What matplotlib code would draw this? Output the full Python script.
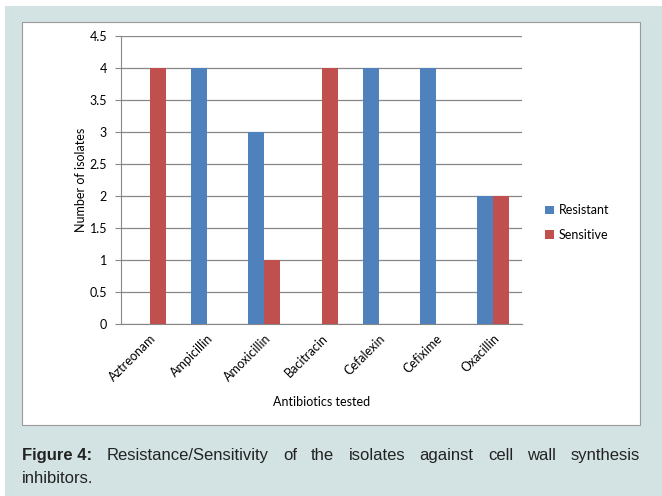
import numpy as np
import matplotlib.pyplot as plt
from matplotlib.patches import Rectangle

# Antibiotic susceptibility counts
antibiotics = ['Aztreonam', 'Ampicillin', 'Amoxicillin', 'Bacitracin',
               'Cefalexin', 'Cefixime', 'Oxacillin']
resistant = [0, 4, 3, 0, 4, 4, 2]
sensitive = [4, 0, 1, 4, 0, 0, 2]
y_ticks = [0, 0.5, 1, 1.5, 2, 2.5, 3, 3.5, 4, 4.5]

blue = '#4f81bd'
red = '#c0504d'
grid_col = '#878787'

fig = plt.figure(figsize=(6.62, 4.96), dpi=100)
fig.patch.set_facecolor('white')

# page panel and chart frame
fig.patches.append(Rectangle((5 / 662, 0), 657 / 662, 1 - 6 / 496,
                             transform=fig.transFigure, facecolor='#d3e3e3',
                             edgecolor='none', zorder=0))
fig.patches.append(Rectangle((22 / 662, 1 - 425 / 496), 618 / 662, 403 / 496,
                             transform=fig.transFigure, facecolor='white',
                             edgecolor='#9a9a9a', linewidth=0.8, zorder=1))

ax = fig.add_axes([121 / 662, 1 - 324 / 496, 401 / 662, 288 / 496])
ax.set_facecolor('none')
ax.set_zorder(2)

x = np.arange(len(antibiotics))
w = 0.28
ax.bar(x - w / 2, resistant, w, color=blue, label='Resistant', zorder=3)
ax.bar(x + w / 2, sensitive, w, color=red, label='Sensitive', zorder=3)

ax.set_xlim(-0.5, len(antibiotics) - 0.5)
ax.set_ylim(0, 4.5)
ax.set_yticks(y_ticks)
ax.set_yticklabels([f'{t:g}' for t in y_ticks])
ax.yaxis.grid(True, color=grid_col, linewidth=0.9, zorder=0)
ax.set_axisbelow(True)

fsize = 9
tick_font = {'family': ['Lato', 'DejaVu Sans'], 'size': fsize}
ax.set_xticks(x)
ax.set_xticklabels(antibiotics, rotation=45, ha='right', rotation_mode='anchor',
                   **tick_font)
for lab in ax.get_yticklabels():
    lab.set_fontfamily(['Lato', 'DejaVu Sans'])
    lab.set_fontsize(fsize)
ax.tick_params(axis='x', length=0, pad=6)
ax.tick_params(axis='y', length=4, color=grid_col, pad=6)

for side in ['top', 'right']:
    ax.spines[side].set_visible(False)
ax.spines['left'].set_color(grid_col)
ax.spines['bottom'].set_color(grid_col)

ax.set_xlabel('Antibiotics tested', fontdict=tick_font, labelpad=9)
ax.set_ylabel('Number of isolates', fontdict=tick_font, labelpad=2)

ax.legend(loc='center left', bbox_to_anchor=(1.03, 0.352), frameon=False,
          prop={'family': ['Lato', 'DejaVu Sans'], 'size': fsize},
          handlelength=0.7, handleheight=0.7, labelspacing=1.0,
          handletextpad=0.4)

# caption under the chart, first line justified word by word
cap_font = ['Liberation Sans', 'DejaVu Sans']
cap_size = 12
cap_col = '#222222'
left, right = 22, 640
line1 = [('Figure 4:', 'bold'), ('Resistance/Sensitivity', 'normal'),
         ('of', 'normal'), ('the', 'normal'), ('isolates', 'normal'),
         ('against', 'normal'), ('cell', 'normal'), ('wall', 'normal'),
         ('synthesis', 'normal')]
renderer = fig.canvas.get_renderer()
words = []
for word, weight in line1:
    t = fig.text(0, 1 - 460 / 496, word, fontsize=cap_size, fontweight=weight,
                 family=cap_font, color=cap_col, va='baseline')
    words.append((t, t.get_window_extent(renderer).width))
total = sum(wd for _, wd in words)
gap = (right - left - total) / (len(words) - 1)
pos = left
for t, wd in words:
    t.set_x(pos / 662)
    pos += wd + gap
fig.text(left / 662, 1 - 483 / 496, 'inhibitors.', fontsize=cap_size,
         family=cap_font, color=cap_col, va='baseline')

fig.savefig('out.png', dpi=100)
